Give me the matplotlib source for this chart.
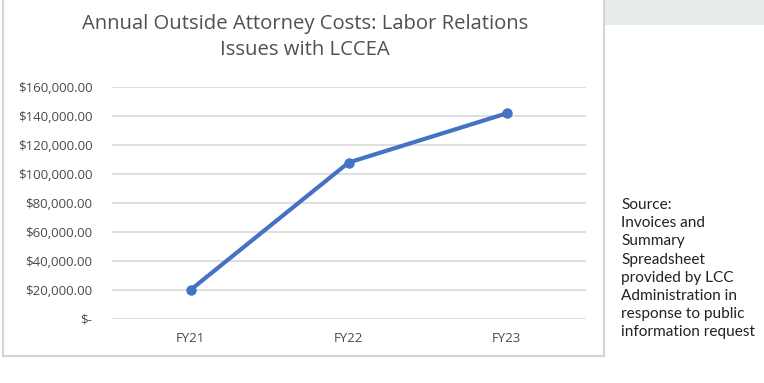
import matplotlib
matplotlib.use("Agg")
import matplotlib.pyplot as plt
from matplotlib.patches import Rectangle

categories = ["FY21", "FY22", "FY23"]
costs = [20000, 108000, 142000]
y_ticks = [0, 20000, 40000, 60000, 80000, 100000, 120000, 140000, 160000]
y_tick_labels = ["$-", "$20,000.00", "$40,000.00", "$60,000.00", "$80,000.00",
                 "$100,000.00", "$120,000.00", "$140,000.00", "$160,000.00"]
title = "Annual Outside Attorney Costs: Labor Relations\nIssues with LCCEA"
source = ("Source:\nInvoices and\nSummary\nSpreadsheet\nprovided by LCC\n"
          "Administration in\nresponse to public\ninformation request")

W, H = 764, 383
fig = plt.figure(figsize=(W / 100, H / 100), dpi=100)

# background gray strip top right
fig.patches.append(Rectangle((605 / W, 1 - 25 / H), (W - 605) / W, 25 / H,
                             transform=fig.transFigure, facecolor="#e8ebec",
                             edgecolor="none", zorder=0))
# chart frame
fig.patches.append(Rectangle((3 / W, 1 - 356 / H), (604 - 3) / W, 358 / H,
                             transform=fig.transFigure, facecolor="white",
                             edgecolor="#d4d4d4", linewidth=1.5, zorder=1))

ax = fig.add_axes([111.7 / W, 1 - 318.7 / H, 474 / W, 231.4 / H])
ax.set_zorder(2)
ax.patch.set_visible(False)
x = list(range(len(categories)))
ax.plot(x, costs, color="#4472c4", linewidth=3, marker="o", markersize=6.5,
        solid_capstyle="round", zorder=3)
ax.set_xlim(-0.5, 2.5)
ax.set_ylim(0, 160000)
ax.set_yticks(y_ticks)
ax.set_yticklabels(y_tick_labels, fontfamily="Open Sans", fontsize=9.5, color="#4a4a4a")
ax.set_xticks(x)
ax.set_xticklabels(categories, fontfamily="Open Sans", fontsize=9.5, color="#4a4a4a")
ax.tick_params(length=0, pad=14, axis="y")
ax.tick_params(length=0, pad=9.5, axis="x")
ax.yaxis.grid(True, color="#d9d9d9", linewidth=1.2)
ax.set_axisbelow(True)
for s in ax.spines.values():
    s.set_visible(False)

fig.text(305 / W, 1 - 37 / H, title, ha="center", va="center",
         fontfamily="Open Sans", fontsize=14.6, color="#505050", linespacing=1.38,
         zorder=3)

fig.text(621 / W, 1 - 198 / H, source, ha="left", va="top",
         fontfamily="Lato", fontsize=11.1, color="#222222", linespacing=1.38, zorder=3)

fig.savefig("out.png", dpi=100)
